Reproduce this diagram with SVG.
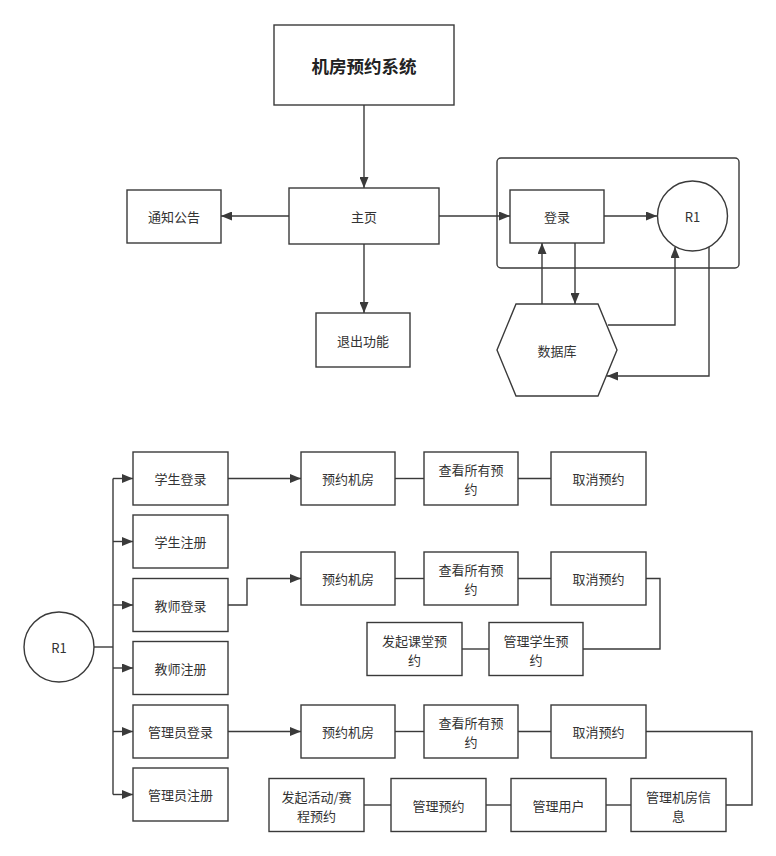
<svg xmlns="http://www.w3.org/2000/svg" width="776" height="856" viewBox="0 0 776 856">
<style>
.n{fill:#fff;stroke:#3a3a3a;stroke-width:1.4}
.f{fill:none;stroke:#3a3a3a;stroke-width:1.4}
.t{font-family:"Noto Sans CJK SC","Noto Sans",sans-serif;font-size:13px;fill:#333;text-anchor:middle;dominant-baseline:central}
.b{font-size:17.5px;font-weight:bold;fill:#222}
.c{fill:none;stroke:#3a3a3a;stroke-width:1.4}
.a{marker-end:url(#ah)}
</style>
<defs>
<marker id="ah" markerUnits="userSpaceOnUse" markerWidth="11" markerHeight="9" refX="11" refY="4.5" orient="auto">
<path d="M0,0 L11,4.5 L0,9 z" fill="#3a3a3a"/>
</marker>
</defs>
<rect width="776" height="856" fill="#fff"/>
<g id="container"><rect class="f" x="497" y="158" width="242" height="110" rx="4"/></g>
<g id="connectors">
<path class="c a" d="M364,105 L364,188"/>
<path class="c a" d="M289,216 L221,216"/>
<path class="c a" d="M364,244 L364,313"/>
<path class="c a" d="M439,216 L510,216"/>
<path class="c a" d="M604,216 L657,216"/>
<path class="c a" d="M575,243 L575,304"/>
<path class="c a" d="M542,304 L542,243"/>
<path class="c a" d="M608,325 L675,325 L675,247"/>
<path class="c a" d="M709,247 L709,376 L607,376"/>
<path class="c" d="M94,647 L113,647"/>
<path class="c" d="M113,478.5 L113,794.5"/>
<path class="c a" d="M113,478.5 L133,478.5"/>
<path class="c a" d="M113,541.5 L133,541.5"/>
<path class="c a" d="M113,605 L133,605"/>
<path class="c a" d="M113,668 L133,668"/>
<path class="c a" d="M113,731.5 L133,731.5"/>
<path class="c a" d="M113,794.5 L133,794.5"/>
<path class="c a" d="M228,478.5 L301,478.5"/>
<path class="c a" d="M228,605 L247,605 L247,578.5 L301,578.5"/>
<path class="c a" d="M228,731.5 L301,731.5"/>
<path class="c" d="M395,478.5 L424,478.5"/>
<path class="c" d="M518,478.5 L551,478.5"/>
<path class="c" d="M395,578.5 L424,578.5"/>
<path class="c" d="M518,578.5 L551,578.5"/>
<path class="c" d="M646,578.5 L660,578.5 L660,649 L583,649"/>
<path class="c" d="M462,649 L489,649"/>
<path class="c" d="M395,731.5 L424,731.5"/>
<path class="c" d="M518,731.5 L551,731.5"/>
<path class="c" d="M646,731.5 L752,731.5 L752,805 L726,805"/>
<path class="c" d="M364,805 L391,805"/>
<path class="c" d="M486,805 L511,805"/>
<path class="c" d="M606,805 L631,805"/>
</g>
<g id="title"><rect class="n" x="274" y="25" width="180" height="80"/><text class="t b" x="364" y="65">机房预约系统</text></g>
<g id="home"><rect class="n" x="289" y="188" width="150" height="56"/><text class="t" x="364" y="216">主页</text></g>
<g id="notice"><rect class="n" x="127" y="190" width="94" height="53"/><text class="t" x="174" y="216.5">通知公告</text></g>
<g id="logout"><rect class="n" x="316" y="313" width="94" height="54"/><text class="t" x="363" y="340">退出功能</text></g>
<g id="login"><rect class="n" x="510" y="190" width="94" height="53"/><text class="t" x="557" y="216.5">登录</text></g>
<g id="r1top"><circle class="n" cx="692.5" cy="216" r="35"/><text class="t" x="692.5" y="216">R1</text></g>
<g id="db"><polygon class="n" points="516,304 598,304 617,350 598,396 516,396 497,350"/><text class="t" x="557" y="350">数据库</text></g>
<g id="r1"><circle class="n" cx="59" cy="647" r="35"/><text class="t" x="59" y="647">R1</text></g>
<g id="s-login"><rect class="n" x="133" y="452" width="95" height="53"/><text class="t" x="180.5" y="478.5">学生登录</text></g>
<g id="s-reg"><rect class="n" x="133" y="515" width="95" height="53"/><text class="t" x="180.5" y="541.5">学生注册</text></g>
<g id="t-login"><rect class="n" x="133" y="578.5" width="95" height="53"/><text class="t" x="180.5" y="605">教师登录</text></g>
<g id="t-reg"><rect class="n" x="133" y="641.5" width="95" height="53"/><text class="t" x="180.5" y="668">教师注册</text></g>
<g id="a-login"><rect class="n" x="133" y="705" width="95" height="53"/><text class="t" x="180.5" y="731.5">管理员登录</text></g>
<g id="a-reg"><rect class="n" x="133" y="768" width="95" height="53"/><text class="t" x="180.5" y="794.5">管理员注册</text></g>
<g id="s-book"><rect class="n" x="301" y="452" width="94" height="53"/><text class="t" x="348" y="478.5">预约机房</text></g>
<g id="s-view"><rect class="n" x="424" y="452" width="94" height="53"/><text class="t" x="471" y="469"><tspan x="471">查看所有预</tspan><tspan x="471" dy="19">约</tspan></text></g>
<g id="s-cancel"><rect class="n" x="551" y="452" width="95" height="53"/><text class="t" x="598.5" y="478.5">取消预约</text></g>
<g id="t-book"><rect class="n" x="301" y="552" width="94" height="53"/><text class="t" x="348" y="578.5">预约机房</text></g>
<g id="t-view"><rect class="n" x="424" y="552" width="94" height="53"/><text class="t" x="471" y="569"><tspan x="471">查看所有预</tspan><tspan x="471" dy="19">约</tspan></text></g>
<g id="t-cancel"><rect class="n" x="551" y="552" width="95" height="53"/><text class="t" x="598.5" y="578.5">取消预约</text></g>
<g id="t-class"><rect class="n" x="367" y="622.5" width="95" height="53"/><text class="t" x="414.5" y="639.5"><tspan x="414.5">发起课堂预</tspan><tspan x="414.5" dy="19">约</tspan></text></g>
<g id="t-manage"><rect class="n" x="489" y="622.5" width="94" height="53"/><text class="t" x="536" y="639.5"><tspan x="536">管理学生预</tspan><tspan x="536" dy="19">约</tspan></text></g>
<g id="a-book"><rect class="n" x="301" y="705" width="94" height="53"/><text class="t" x="348" y="731.5">预约机房</text></g>
<g id="a-view"><rect class="n" x="424" y="705" width="94" height="53"/><text class="t" x="471" y="722"><tspan x="471">查看所有预</tspan><tspan x="471" dy="19">约</tspan></text></g>
<g id="a-cancel"><rect class="n" x="551" y="705" width="95" height="53"/><text class="t" x="598.5" y="731.5">取消预约</text></g>
<g id="a-event"><rect class="n" x="269" y="778.5" width="95" height="53"/><text class="t" x="316.5" y="795.5"><tspan x="316.5">发起活动/赛</tspan><tspan x="316.5" dy="19">程预约</tspan></text></g>
<g id="a-manage"><rect class="n" x="391" y="778.5" width="95" height="53"/><text class="t" x="438.5" y="805">管理预约</text></g>
<g id="a-users"><rect class="n" x="511" y="778.5" width="95" height="53"/><text class="t" x="558.5" y="805">管理用户</text></g>
<g id="a-rooms"><rect class="n" x="631" y="778.5" width="95" height="53"/><text class="t" x="678.5" y="795.5"><tspan x="678.5">管理机房信</tspan><tspan x="678.5" dy="19">息</tspan></text></g>
</svg>
